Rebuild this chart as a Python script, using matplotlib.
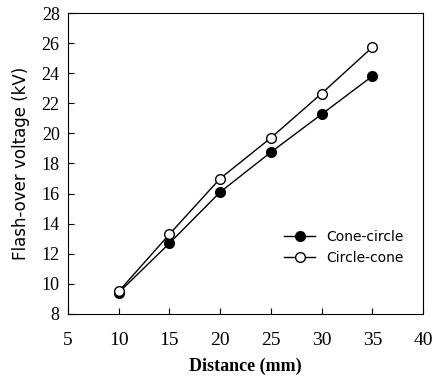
import matplotlib
matplotlib.use("Agg")
import matplotlib.pyplot as plt

# data
distance = [10, 15, 20, 25, 30, 35]
cone_circle = [9.42, 12.7, 16.1, 18.75, 21.27, 23.8]
circle_cone = [9.5, 13.3, 17.0, 19.7, 22.65, 25.72]

plt.rcParams['font.family'] = ['Liberation Serif', 'DejaVu Serif']

fig = plt.figure(figsize=(4.34, 3.78), dpi=100)
ax = fig.add_axes([68 / 434, 1 - 314 / 378, (423 - 68) / 434, (314 - 13) / 378])

ax.plot(distance, cone_circle, color='black', lw=1.0, marker='o', ms=7,
        markerfacecolor='black', label='Cone-circle')
ax.plot(distance, circle_cone, color='black', lw=1.0, marker='o', ms=7,
        markerfacecolor='white', label='Circle-cone')

ax.set_xlim(5, 40)
ax.set_ylim(8, 28)
ax.set_xticks(range(5, 41, 5))
ax.set_yticks(range(8, 29, 2))
ax.tick_params(direction='in', length=4, top=False, right=False)
ax.tick_params(axis='x', pad=13, labelsize=14)
ax.tick_params(axis='y', pad=6, labelsize=13)

ax.set_xlabel('Distance (mm)', fontsize=13, fontweight='bold', labelpad=6)
ax.set_ylabel('Flash-over voltage (kV)', fontsize=12, family='DejaVu Sans',
              labelpad=8)

leg = ax.legend(loc='center right', bbox_to_anchor=(0.98, 0.22), frameon=False,
                prop={'family': 'DejaVu Sans', 'size': 10}, handlelength=2.2)

fig.savefig('out.png', dpi=100)
